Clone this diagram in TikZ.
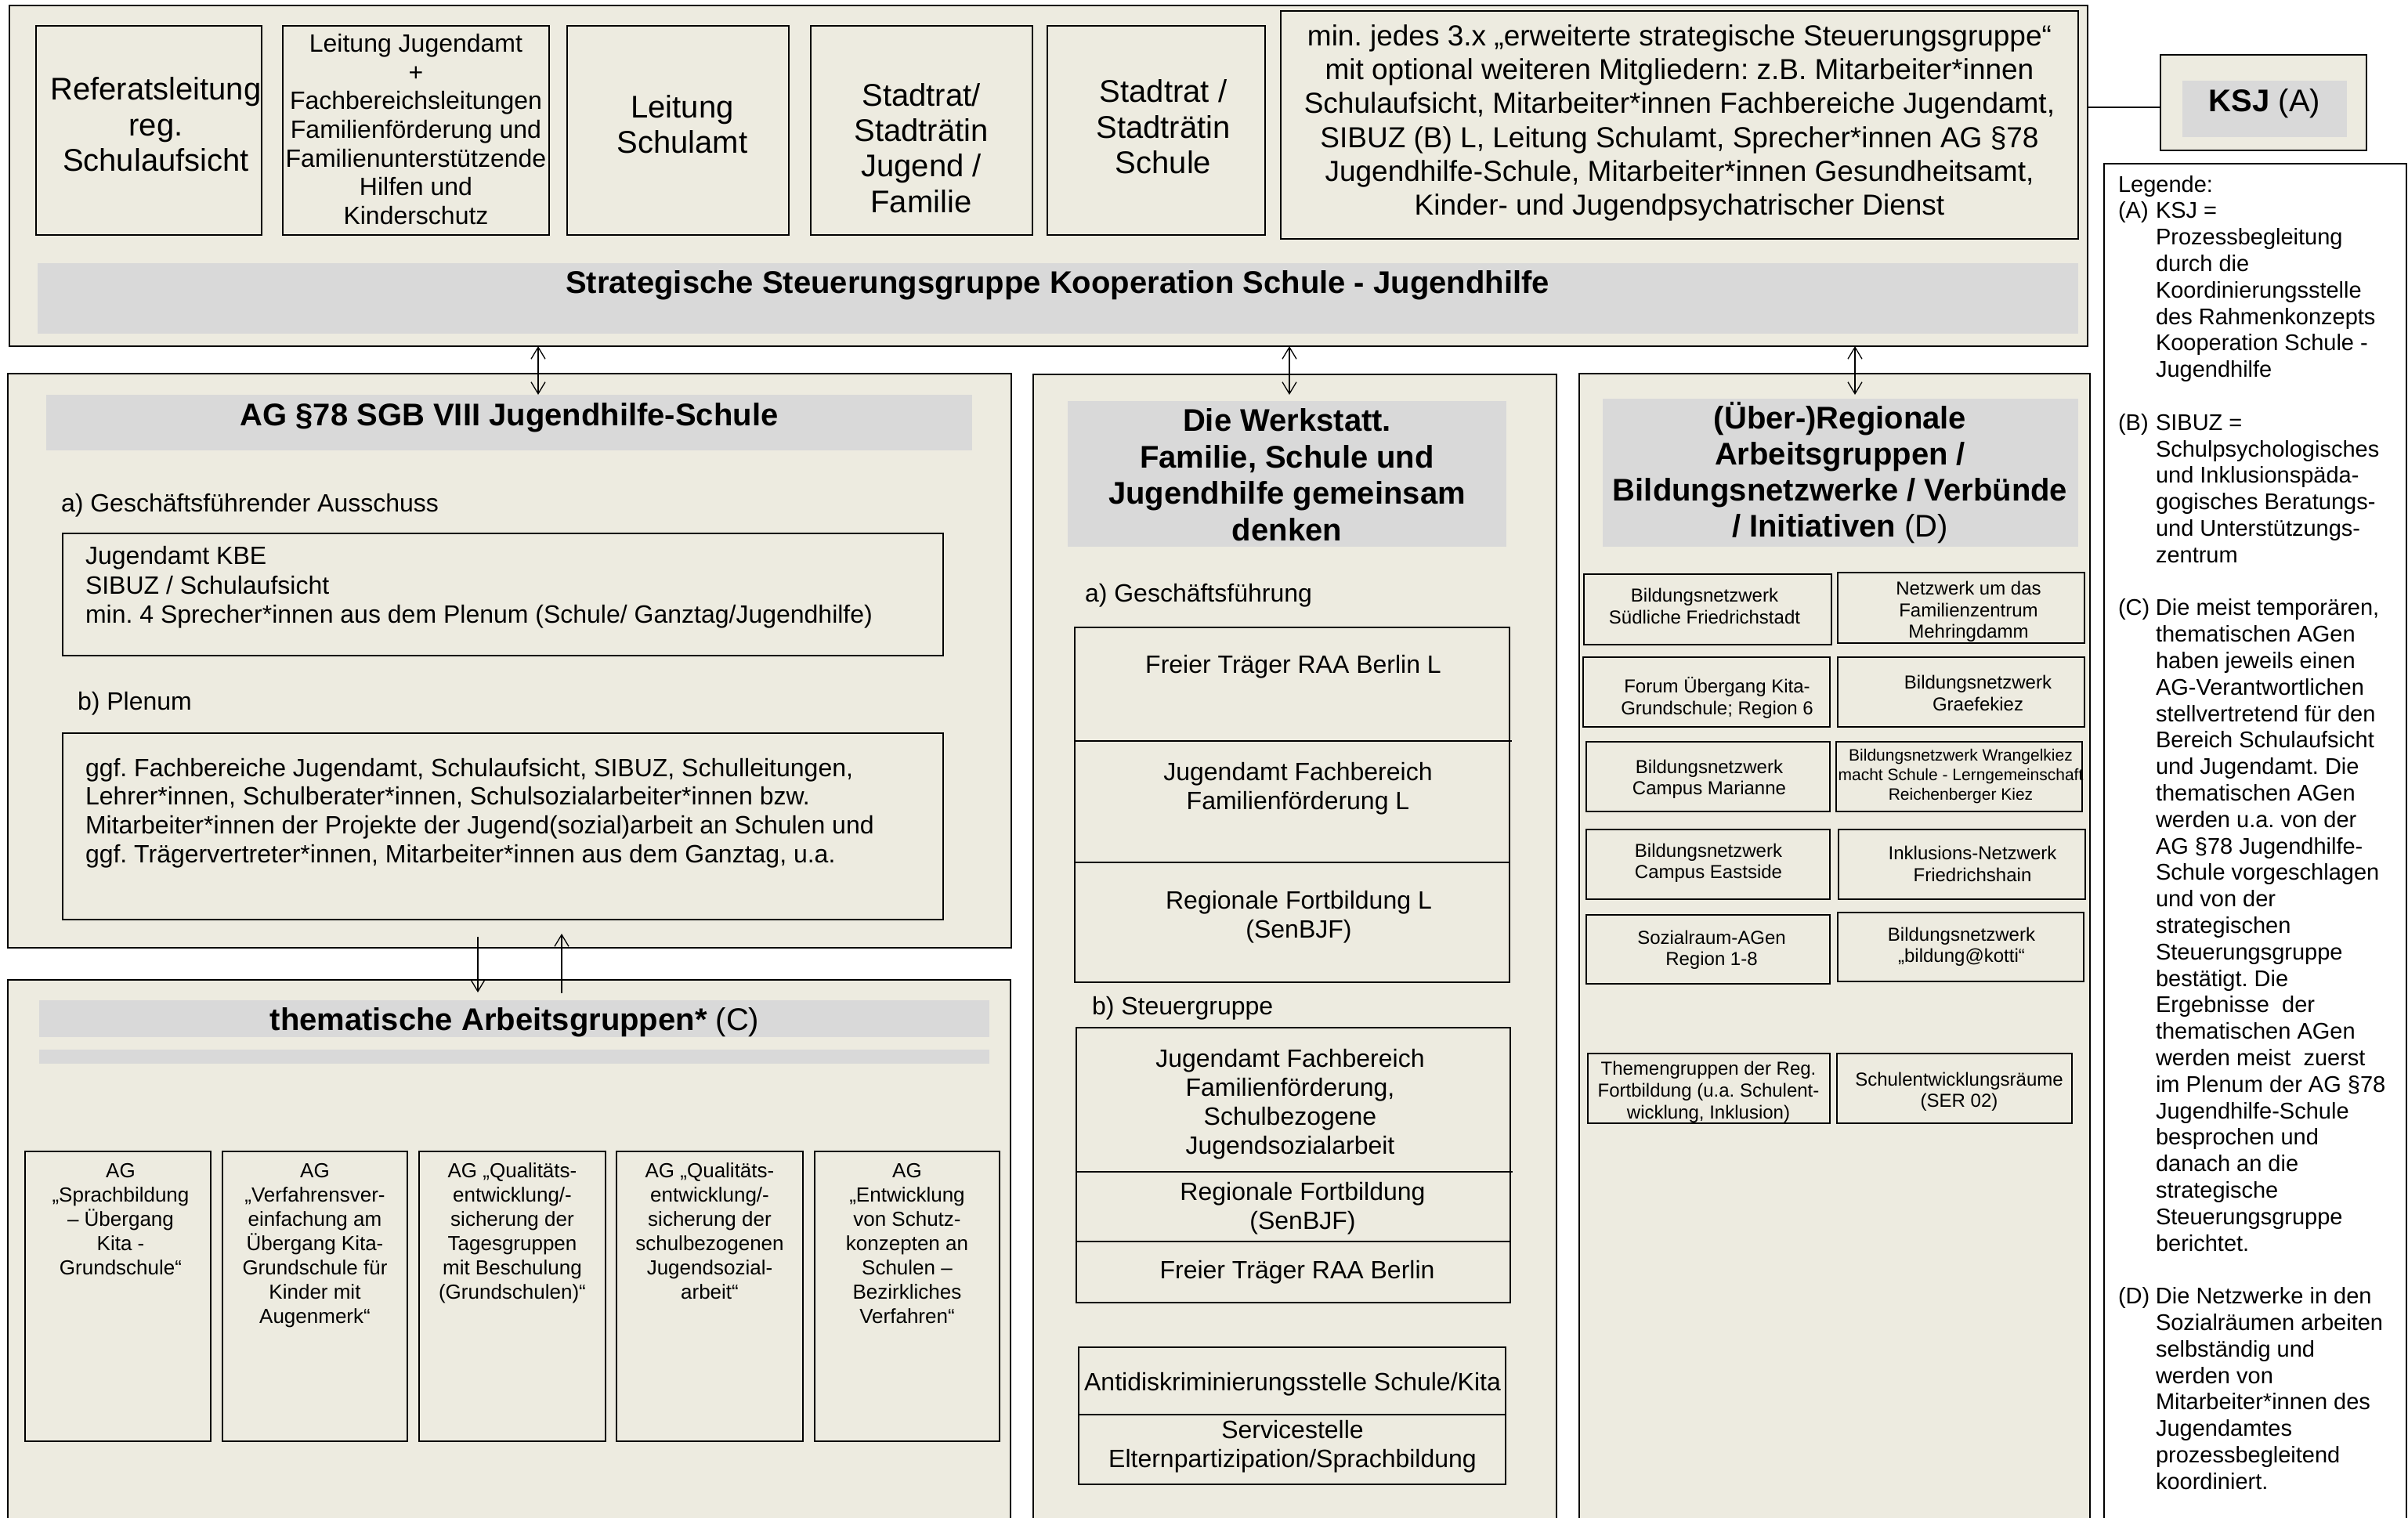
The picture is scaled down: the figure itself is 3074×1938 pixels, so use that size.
\documentclass[tikz,border=0pt]{standalone}
\usepackage{fontspec}
\setmainfont{Liberation Sans}
\usetikzlibrary{arrows.meta}
\definecolor{beige}{HTML}{EDEBE0}
\definecolor{barg}{HTML}{D9D9D9}
\newcommand\myfs[2]{\fontsize{#1}{#2}\selectfont}
\newcommand\Rect[6]{\node[#1,minimum width={#5-#3},minimum height={#6-#4},inner sep=0pt,outer sep=0pt] (#2) at ({(#3+#5)/2},{(#4+#6)/2}) {};}
\newcommand\LI{\hspace*{48pt}}
\newcommand\LL[1]{\makebox[48pt][l]{#1}}
\frenchspacing
\begin{document}
\frenchspacing
\begin{tikzpicture}[x=1pt,y=-1pt,
  panel/.style={draw,line width=2.2pt,fill=beige,rectangle},
  obox/.style={draw,line width=2.6pt,fill=beige,rectangle},
  sbox/.style={draw,line width=2.4pt,fill=beige,rectangle},
  legbox/.style={draw,line width=1.6pt,fill=white,rectangle},
  bar/.style={fill=barg,rectangle},
  txt/.style={inner sep=0pt,outer sep=0pt,align=center},
  ltxt/.style={inner sep=0pt,outer sep=0pt,align=left,anchor=west},
  big/.style={font=\myfs{40}{45.3}},
  bigb/.style={font=\myfs{40}{46.5}\bfseries},
  body/.style={font=\myfs{32}{37}},
  small/.style={font=\myfs{24}{27.5}},
  agf/.style={font=\myfs{26}{31}},
  dline/.style={line width=1.2pt},
  conn/.style={line width=1.3pt,-{Straight Barb[length=15pt,width=18pt]}},
  conn2/.style={line width=1.3pt,{Straight Barb[length=15pt,width=18pt]}-{Straight Barb[length=15pt,width=18pt]}},
]
\useasboundingbox[fill=white] (0,0) rectangle (3074,1938);

% ---------- top panel ----------
\Rect{panel}{strat}{12}{7}{2665}{442}
\Rect{obox}{b1}{46}{33}{334}{300}
\Rect{obox}{b2}{361}{33}{701}{300}
\Rect{obox}{b3}{724}{33}{1007}{300}
\Rect{obox}{b4}{1035}{33}{1318}{300}
\Rect{obox}{b5}{1337}{33}{1615}{300}
\Rect{obox}{b6}{1635}{14}{2653}{305}
\Rect{bar}{stratbar}{48}{336}{2653}{426}
\node[txt,big] (t1) at (199,159) {Referatsleitung\\reg.\\Schulaufsicht};
\node[txt,font=\myfs{32}{36.7}] (t2) at (531,165) {Leitung Jugendamt\\+\\Fachbereichsleitungen\\Familienförderung und\\Familienunterstützende\\Hilfen und\\Kinderschutz};
\node[txt,big] (t3) at (871,159) {Leitung\\Schulamt};
\node[txt,big] (t4) at (1176,189) {Stadtrat/\\Stadträtin\\Jugend /\\Familie};
\node[txt,big] (t5) at (1485,162) {Stadtrat /\\Stadträtin\\Schule};
\node[txt,font=\myfs{37}{43.3}] (t6) at (2144,157) {min. jedes 3.x „erweiterte strategische Steuerungsgruppe“\\mit optional weiteren Mitgliedern: z.B. Mitarbeiter*innen\\Schulaufsicht, Mitarbeiter*innen Fachbereiche Jugendamt,\\SIBUZ (B) L, Leitung Schulamt, Sprecher*innen AG §78\\Jugendhilfe-Schule, Mitarbeiter*innen Gesundheitsamt,\\Kinder- und Jugendpsychatrischer Dienst};
\node[txt,bigb] (stratt) at (1350,364) {Strategische Steuerungsgruppe Kooperation Schule - Jugendhilfe};

% ---------- KSJ ----------
\Rect{obox}{ksj}{2758}{70}{3021}{192}
\Rect{bar}{ksjbar}{2786}{103}{2996}{175}
\node[txt,font=\myfs{40}{46}] (ksjt) at (2891,132) {\textbf{KSJ} (A)};
\draw[line width=2pt] ([yshift=-6pt]ksj.west) -- ([yshift=-6pt]ksj.west -| strat.east);

% ---------- legend ----------
\Rect{legbox}{leg}{2686}{209}{3072}{1990}
\node[inner sep=0pt,outer sep=0pt,anchor=north west,align=left,font=\myfs{29}{33.8}] (legt) at (2704,224) {Legende:\\
\LL{(A)}KSJ =\\
\LI Prozessbegleitung\\
\LI durch die\\
\LI Koordinierungsstelle\\
\LI des Rahmenkonzepts\\
\LI Kooperation Schule -\\
\LI Jugendhilfe\\[33.8pt]
\LL{(B)}SIBUZ =\\
\LI Schulpsychologisches\\
\LI und Inklusionspäda-\\
\LI gogisches Beratungs-\\
\LI und Unterstützungs-\\
\LI zentrum\\[33.8pt]
\LL{(C)}Die meist temporären,\\
\LI thematischen AGen\\
\LI haben jeweils einen\\
\LI AG-Verantwortlichen\\
\LI stellvertretend für den\\
\LI Bereich Schulaufsicht\\
\LI und Jugendamt. Die\\
\LI thematischen AGen\\
\LI werden u.a. von der\\
\LI AG §78 Jugendhilfe-\\
\LI Schule vorgeschlagen\\
\LI und von der\\
\LI strategischen\\
\LI Steuerungsgruppe\\
\LI bestätigt. Die\\
\LI Ergebnisse\ \ der\\
\LI thematischen AGen\\
\LI werden meist\ \ zuerst\\
\LI im Plenum der AG §78\\
\LI Jugendhilfe-Schule\\
\LI besprochen und\\
\LI danach an die\\
\LI strategische\\
\LI Steuerungsgruppe\\
\LI berichtet.\\[33.8pt]
\LL{(D)}Die Netzwerke in den\\
\LI Sozialräumen arbeiten\\
\LI selbständig und\\
\LI werden von\\
\LI Mitarbeiter*innen des\\
\LI Jugendamtes\\
\LI prozessbegleitend\\
\LI koordiniert.};

% ---------- AG 78 ----------
\Rect{panel}{ag}{10}{477}{1291}{1210}
\Rect{bar}{agbar}{59}{504}{1241}{575}
\node[txt,bigb] (agt) at (650,533) {AG §78 SGB VIII Jugendhilfe-Schule};
\node[ltxt,body] (aga) at (78,645) {a) Geschäftsführender Ausschuss};
\Rect{obox}{agbox1}{80}{681}{1204}{837}
\node[ltxt,font=\myfs{32}{37.5}] (agbox1t) at (109,750) {Jugendamt KBE\\SIBUZ / Schulaufsicht\\min. 4 Sprecher*innen aus dem Plenum (Schule/ Ganztag/Jugendhilfe)};
\node[ltxt,body] (agb) at (99,898) {b) Plenum};
\Rect{obox}{agbox2}{80}{936}{1204}{1174}
\node[ltxt,font=\myfs{32}{36.8}] (agbox2t) at (109,1038) {ggf. Fachbereiche Jugendamt, Schulaufsicht, SIBUZ, Schulleitungen,\\Lehrer*innen, Schulberater*innen, Schulsozialarbeiter*innen bzw.\\Mitarbeiter*innen der Projekte der Jugend(sozial)arbeit an Schulen und\\ggf. Trägervertreter*innen, Mitarbeiter*innen aus dem Ganztag, u.a.};

% ---------- thematic ----------
\Rect{panel}{them}{10}{1251}{1290}{1990}
\Rect{bar}{thembar}{50}{1277}{1263}{1324}
\node[txt,font=\myfs{40}{46}] (themt) at (657,1305) {\textbf{thematische Arbeitsgruppen*} (C)};
\Rect{bar}{thembar2}{50}{1340}{1263}{1358}
\Rect{obox}{tg1}{32}{1470}{269}{1840}
\Rect{obox}{tg2}{284}{1470}{520}{1840}
\Rect{obox}{tg3}{535}{1470}{773}{1840}
\Rect{obox}{tg4}{787}{1470}{1025}{1840}
\Rect{obox}{tg5}{1040}{1470}{1276}{1840}
\node[txt,agf,anchor=north] (tg1t) at (154,1485) {AG\\„Sprachbildung\\– Übergang\\Kita -\\Grundschule“};
\node[txt,agf,anchor=north] (tg2t) at (402,1485) {AG\\„Verfahrensver-\\einfachung am\\Übergang Kita-\\Grundschule für\\Kinder mit\\Augenmerk“};
\node[txt,agf,anchor=north] (tg3t) at (654,1485) {AG „Qualitäts-\\entwicklung/-\\sicherung der\\Tagesgruppen\\mit Beschulung\\(Grundschulen)“};
\node[txt,agf,anchor=north] (tg4t) at (906,1485) {AG „Qualitäts-\\entwicklung/-\\sicherung der\\schulbezogenen\\Jugendsozial-\\arbeit“};
\node[txt,agf,anchor=north] (tg5t) at (1158,1485) {AG\\„Entwicklung\\von Schutz-\\konzepten an\\Schulen –\\Bezirkliches\\Verfahren“};

% ---------- Werkstatt ----------
\Rect{panel}{werk}{1319}{478}{1987}{1990}
\Rect{bar}{werkbar}{1363}{512}{1923}{698}
\node[txt,bigb] (werkt) at (1643,606) {Die Werkstatt.\\Familie, Schule und\\Jugendhilfe gemeinsam\\denken};
\node[ltxt,body] (werka) at (1385,760) {a) Geschäftsführung};
\Rect{obox}{gf}{1372}{801}{1927}{1254}
\draw[dline] ([yshift=-145pt]gf.north west) -- ([yshift=-145pt,xshift=3pt]gf.north east);
\draw[dline] ([yshift=-300pt]gf.north west) -- ([yshift=-300pt]gf.north east);
\node[txt,body] (gf1) at (1651,851) {Freier Träger RAA Berlin L};
\node[txt,body] (gf2) at (1657,1007) {Jugendamt Fachbereich\\Familienförderung L};
\node[txt,body] (gf3) at (1658,1171) {Regionale Fortbildung L\\(SenBJF)};
\node[ltxt,body] (werkb) at (1394,1287) {b) Steuergruppe};
\Rect{obox}{sg}{1374}{1312}{1928}{1663}
\draw[dline] ([yshift=-184pt]sg.north west) -- ([yshift=-184pt,xshift=3pt]sg.north east);
\draw[dline] ([yshift=-273pt]sg.north west) -- ([yshift=-273pt]sg.north east);
\node[txt,body] (sg1) at (1647,1410) {Jugendamt Fachbereich\\Familienförderung,\\Schulbezogene\\Jugendsozialarbeit};
\node[txt,body] (sg2) at (1663,1543) {Regionale Fortbildung\\(SenBJF)};
\node[txt,body] (sg3) at (1656,1624) {Freier Träger RAA Berlin};
\Rect{obox}{ad}{1377}{1720}{1922}{1895}
\draw[dline] ([yshift=-86pt]ad.north west) -- ([yshift=-86pt]ad.north east);
\node[txt,body] (ad1) at (1650,1767) {Antidiskriminierungsstelle Schule/Kita};
\node[txt,body] (ad2) at (1650,1847) {Servicestelle\\Elternpartizipation/Sprachbildung};

% ---------- Regional ----------
\Rect{panel}{reg}{2016}{477}{2668}{1990}
\Rect{bar}{regbar}{2046}{509}{2653}{698}
\node[txt,font=\myfs{40}{46}\bfseries] (regt) at (2349,604) {(Über-)Regionale\\Arbeitsgruppen /\\Bildungsnetzwerke / Verbünde\\/ Initiativen \textmd{(D)}};
\Rect{sbox}{r1l}{2022}{733}{2338}{823}
\Rect{sbox}{r1r}{2346}{731}{2661}{821}
\Rect{sbox}{r2l}{2021}{839}{2336}{928}
\Rect{sbox}{r2r}{2346}{839}{2661}{928}
\Rect{sbox}{r3l}{2025}{947}{2336}{1036}
\Rect{sbox}{r3r}{2344}{947}{2658}{1036}
\Rect{sbox}{r4l}{2025}{1059}{2336}{1148}
\Rect{sbox}{r4r}{2347}{1059}{2662}{1148}
\Rect{sbox}{r5l}{2025}{1168}{2336}{1256}
\Rect{sbox}{r5r}{2346}{1165}{2660}{1253}
\Rect{sbox}{r6l}{2027}{1345}{2336}{1434}
\Rect{sbox}{r6r}{2345}{1345}{2645}{1434}
\node[txt,small] (r1lt) at (2176,774) {Bildungsnetzwerk\\Südliche Friedrichstadt};
\node[txt,small] (r1rt) at (2513,781) {Netzwerk um das\\Familienzentrum\\Mehringdamm};
\node[txt,small] (r2lt) at (2192,891) {Forum Übergang Kita-\\Grundschule; Region 6};
\node[txt,small] (r2rt) at (2525,885) {Bildungsnetzwerk\\Graefekiez};
\node[txt,small] (r3lt) at (2182,995) {Bildungsnetzwerk\\Campus Marianne};
\node[txt,font=\myfs{21}{25}] (r3rt) at (2503,991) {Bildungsnetzwerk Wrangelkiez\\macht Schule - Lerngemeinschaft\\Reichenberger Kiez};
\node[txt,small] (r4lt) at (2181,1102) {Bildungsnetzwerk\\Campus Eastside};
\node[txt,small] (r4rt) at (2518,1103) {Inklusions-Netzwerk\\Friedrichshain};
\node[txt,small] (r5lt) at (2185,1213) {Sozialraum-AGen\\Region 1-8};
\node[txt,small] (r5rt) at (2504,1209) {Bildungsnetzwerk\\„bildung@kotti“};
\node[txt,font=\myfs{24}{28}] (r6lt) at (2181,1394) {Themengruppen der Reg.\\Fortbildung (u.a. Schulent-\\wicklung, Inklusion)};
\node[txt,small] (r6rt) at (2501,1394) {Schulentwicklungsräume\\(SER 02)};

% ---------- connectors ----------
\coordinate (a1e) at (687,504);
\coordinate (a2e) at (1646,504);
\coordinate (a3e) at (2368,504);
\draw[conn2] (a1e |- strat.south) -- (a1e);
\draw[conn2] (a2e |- strat.south) -- (a2e);
\draw[conn2] (a3e |- strat.south) -- (a3e);
\coordinate (d1s) at (610,1196);
\coordinate (d1e) at (610,1267);
\coordinate (u1s) at (717,1268);
\coordinate (u1e) at (717,1192);
\draw[conn] (d1s) -- (d1e);
\draw[conn] (u1s) -- (u1e);
\end{tikzpicture}
\end{document}
